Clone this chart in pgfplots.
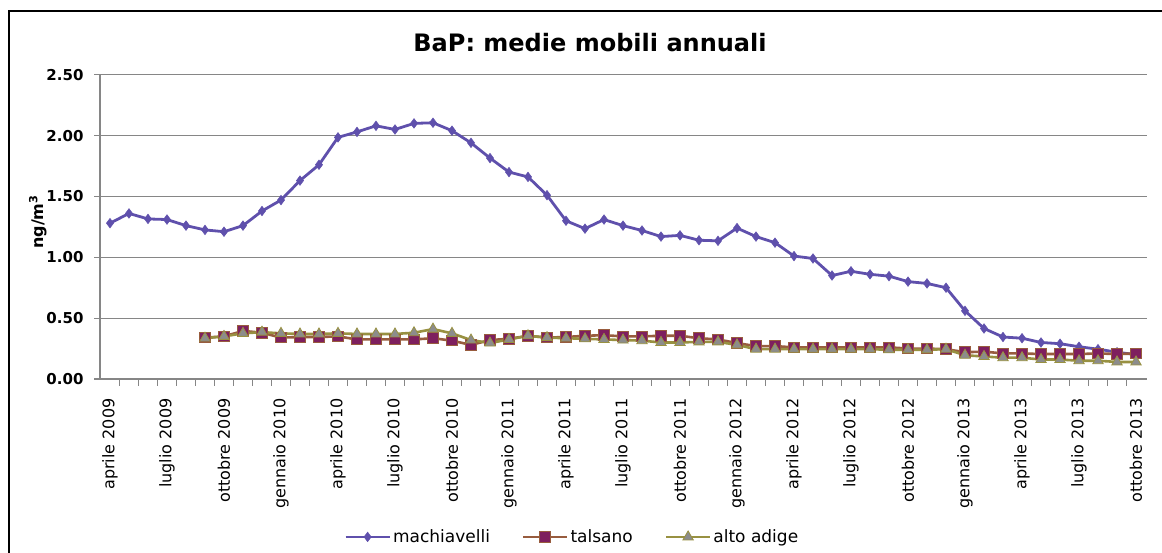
\documentclass[border=0pt]{standalone}
\usepackage{pgfplots}
\pgfplotsset{compat=1.18}
\usepackage{fontspec}
\setmainfont{DejaVu Sans}
\definecolor{axisgray}{RGB}{134,134,134}
\definecolor{machc}{RGB}{95,80,172}
\definecolor{talc}{RGB}{152,92,62}
\definecolor{talfill}{RGB}{126,31,94}
\definecolor{altc}{RGB}{152,145,65}
\definecolor{altfill}{RGB}{140,140,140}
\begin{document}
\begin{tikzpicture}[x=1pt,y=1pt]
\path[use as bounding box] (0,0) rectangle (1162,553);
\draw[black,line width=2.5pt] (9,0) -- (9,542) -- (1162,542);
\node[font=\bfseries\fontsize{24}{28}\selectfont] at (590,510) {BaP: medie mobili annuali};
\node[font=\bfseries\fontsize{16}{18}\selectfont,rotate=90] at (38,331) {ng/m\textsuperscript{3}};
\begin{axis}[
  at={(100pt,174pt)}, anchor=south west, scale only axis,
  width=1047pt, height=304.3pt,
  xmin=-0.526, xmax=54.58, ymin=0, ymax=2.5,
  axis x line*=bottom, axis y line*=left,
  axis line style={draw=axisgray, line width=1.2pt, -},
  ytick={0,0.5,...,2.5}, ymajorgrids,
  grid style={axisgray, line width=1.2pt},
  xtick={0,3,...,54},
  xticklabels={aprile 2009, luglio 2009, ottobre 2009, gennaio 2010, aprile 2010, luglio 2010, ottobre 2010, gennaio 2011, aprile 2011, luglio 2011, ottobre 2011, gennaio 2012, aprile 2012, luglio 2012, ottobre 2012, gennaio 2013, aprile 2013, luglio 2013, ottobre 2013},
  minor xtick={0.5,1.5,...,53.5},
  tick align=outside,
  major tick length=6pt, minor tick length=7pt,
  major x tick style={draw=none},
  minor x tick style={draw=axisgray, line width=1.2pt},
  major y tick style={draw=axisgray, line width=1.2pt},
  xticklabel shift=10pt,
  yticklabel shift=7pt,
  xticklabel style={rotate=90, anchor=east, font=\fontsize{16}{16}\selectfont},
  yticklabel style={font=\bfseries\fontsize{15}{16}\selectfont},
  /pgf/number format/assume math mode=true,
  yticklabel={\pgfmathprintnumber[fixed,fixed zerofill,precision=2]{\tick}},
  legend columns=3,
  legend style={at={(0.451,-0.519)}, anchor=center, draw=none, fill=none,
    font=\fontsize{17}{20}\selectfont,
    /tikz/every even column/.append style={column sep=30pt}},
  legend image code/.code={\draw[mark repeat=2,mark phase=2] plot coordinates {(0pt,0pt) (22pt,0pt) (44pt,0pt)};},
]
\addplot[color=machc, line width=2.8pt, mark=diamond*, mark size=4.8pt, mark options={fill=machc, draw=machc, line width=0.5pt}] coordinates {
(0,1.28) (1,1.36) (2,1.315) (3,1.31) (4,1.26) (5,1.225) (6,1.21) (7,1.26) (8,1.38) (9,1.47)
(10,1.63) (11,1.76) (12,1.985) (13,2.03) (14,2.08) (15,2.05) (16,2.10) (17,2.105) (18,2.04) (19,1.94)
(20,1.815) (21,1.70) (22,1.66) (23,1.51) (24,1.30) (25,1.235) (26,1.31) (27,1.26) (28,1.22) (29,1.17)
(30,1.18) (31,1.14) (32,1.135) (33,1.24) (34,1.17) (35,1.12) (36,1.01) (37,0.99) (38,0.85) (39,0.885)
(40,0.86) (41,0.845) (42,0.80) (43,0.785) (44,0.75) (45,0.56) (46,0.415) (47,0.345) (48,0.335) (49,0.30)
(50,0.29) (51,0.265) (52,0.245) (53,0.22) (54,0.20)
};
\addlegendentry{machiavelli}
\addplot[color=talc, line width=2.6pt, mark=square*, mark size=5.3pt, mark options={fill=talfill, draw=talc, line width=1pt}] coordinates {
(5,0.34) (6,0.35) (7,0.395) (8,0.38) (9,0.34) (10,0.345) (11,0.345) (12,0.35) (13,0.325) (14,0.325)
(15,0.325) (16,0.325) (17,0.335) (18,0.315) (19,0.28) (20,0.32) (21,0.33) (22,0.355) (23,0.34) (24,0.345)
(25,0.355) (26,0.36) (27,0.35) (28,0.35) (29,0.355) (30,0.355) (31,0.335) (32,0.325) (33,0.295) (34,0.27)
(35,0.27) (36,0.26) (37,0.26) (38,0.26) (39,0.26) (40,0.26) (41,0.26) (42,0.25) (43,0.25) (44,0.245)
(45,0.22) (46,0.225) (47,0.21) (48,0.21) (49,0.205) (50,0.205) (51,0.205) (52,0.21) (53,0.205) (54,0.21)
};
\addlegendentry{talsano}
\addplot[color=altc, line width=2.6pt, mark=triangle*, mark size=6pt, mark options={fill=altfill, draw=altc, line width=0.8pt}] coordinates {
(5,0.335) (6,0.35) (7,0.375) (8,0.385) (9,0.375) (10,0.37) (11,0.37) (12,0.375) (13,0.37) (14,0.37)
(15,0.37) (16,0.38) (17,0.41) (18,0.375) (19,0.32) (20,0.295) (21,0.325) (22,0.355) (23,0.34) (24,0.335)
(25,0.33) (26,0.325) (27,0.32) (28,0.315) (29,0.30) (30,0.30) (31,0.305) (32,0.305) (33,0.28) (34,0.245)
(35,0.245) (36,0.245) (37,0.245) (38,0.245) (39,0.245) (40,0.245) (41,0.24) (42,0.24) (43,0.24) (44,0.245)
(45,0.195) (46,0.185) (47,0.175) (48,0.175) (49,0.16) (50,0.16) (51,0.15) (52,0.15) (53,0.14) (54,0.14)
};
\addlegendentry{alto adige}
\end{axis}
\end{tikzpicture}
\end{document}
